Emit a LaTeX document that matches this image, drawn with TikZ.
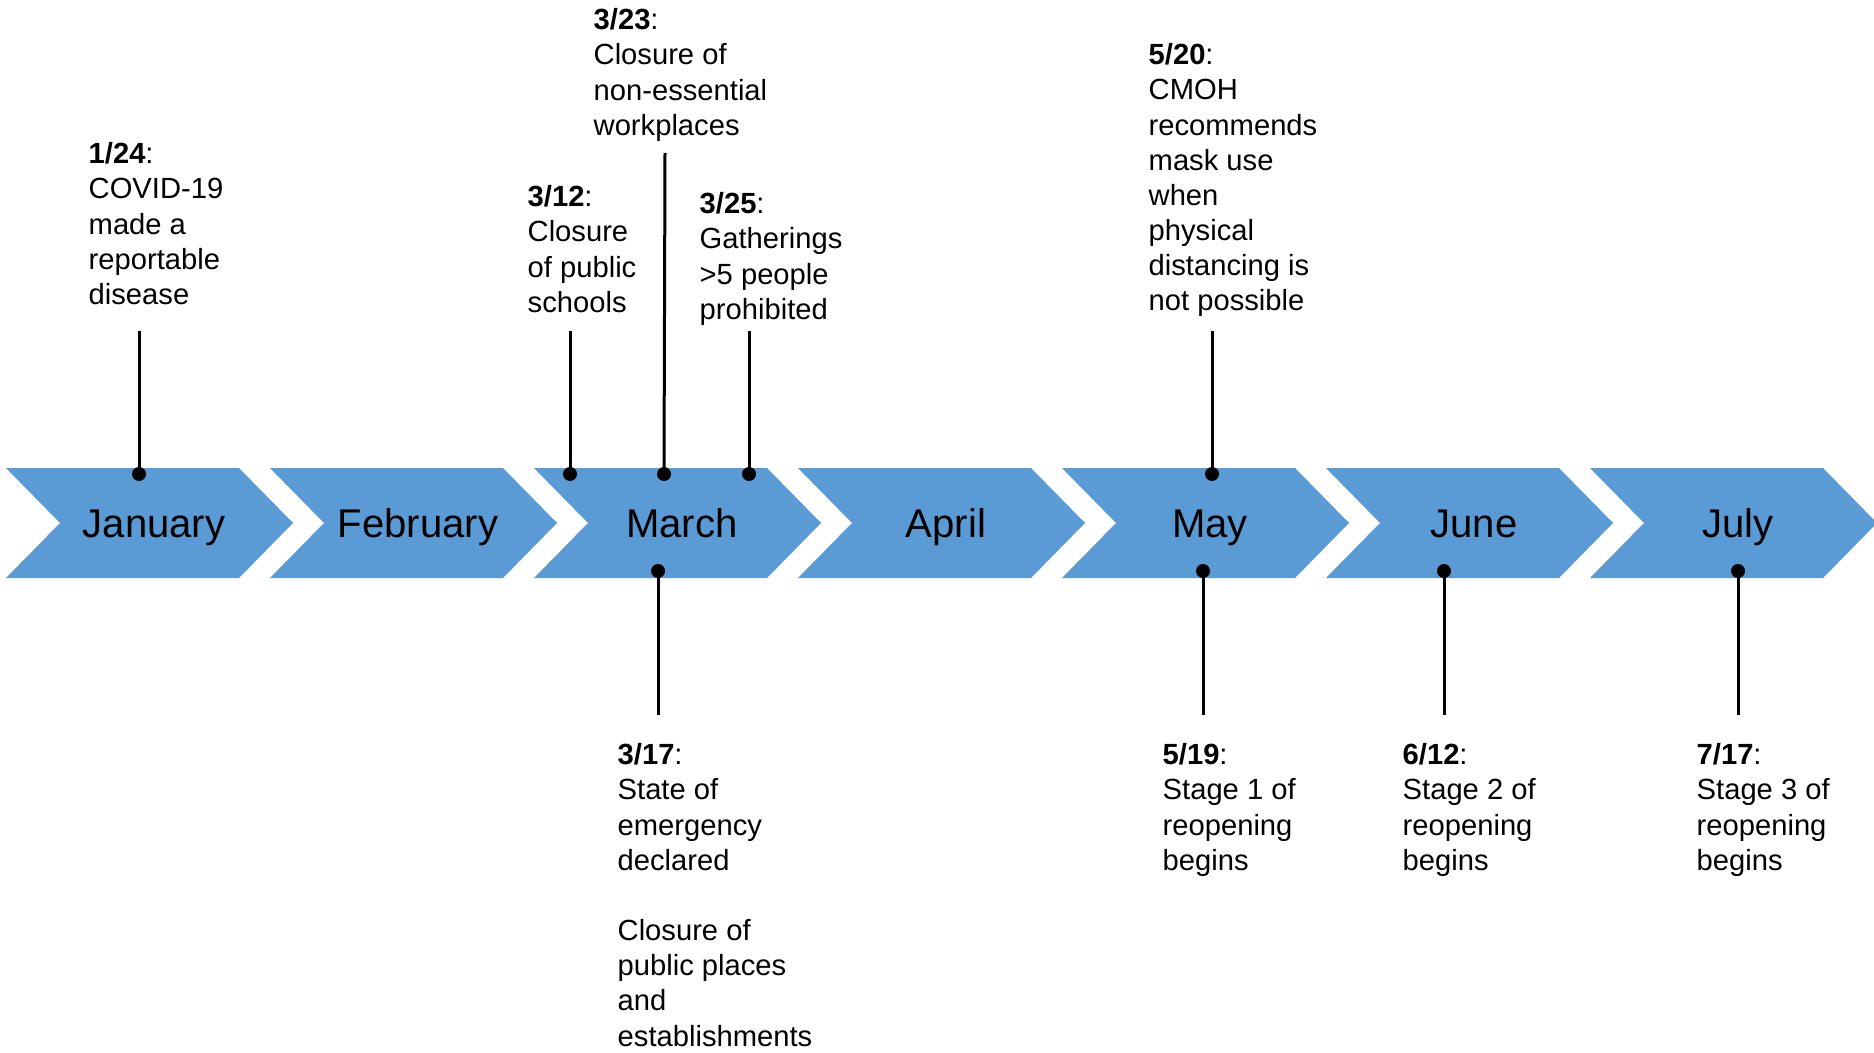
\documentclass[tikz,border=0pt]{standalone}
\usepackage{fontspec}
\setmainfont{Liberation Sans}
\definecolor{chevblue}{HTML}{5B9BD5}
\tikzset{
  chev/.style={fill=chevblue},
  month/.style={font=\fontsize{11.4}{13}\selectfont, inner sep=0, anchor=base},
  note/.style={font=\fontsize{8.3}{10}\selectfont, align=left, inner sep=0, anchor=north west},
  tick/.style={line width=0.3mm},
  dot/.style={fill=black}}

\begin{document}
\begin{tikzpicture}[x=0.1mm,y=-0.1mm]
\useasboundingbox (0,0) rectangle (1874,1053);
% month chevrons
\foreach \m [count=\i from 0] in {January,February,March,April,May,June,July}{
  \fill[chev] ({6+264*\i},468) -- ++(233,0) -- ++(54,55) -- ++(-54,55) -- ++(-233,0) -- ++(54,-55) -- cycle;
  \node[month] (m\i) at ({154+264*\i},537) {\m};
}
% notes above
\node[note] (jan24) at (88,142) {\textbf{1/24}:\\COVID-19\\made a\\reportable\\disease};
\node[note] (mar12) at (527,185) {\textbf{3/12}:\\Closure\\of public\\schools};
\node[note] (mar23) at (593,8) {\textbf{3/23}:\\Closure of\\non-essential\\workplaces};
\node[note] (mar25) at (699,192) {\textbf{3/25}:\\Gatherings\\>5 people\\prohibited};
\node[note] (may20) at (1148,43) {\textbf{5/20}:\\CMOH\\recommends\\mask use\\when\\physical\\distancing is\\not possible};
% notes below
\node[note] (mar17) at (617,743) {\textbf{3/17}:\\State of\\emergency\\declared\\[10pt]Closure of\\public places\\and\\establishments};
\node[note] (may19) at (1162,743) {\textbf{5/19}:\\Stage 1 of\\reopening\\begins};
\node[note] (jun12) at (1402,743) {\textbf{6/12}:\\Stage 2 of\\reopening\\begins};
\node[note] (jul17) at (1696,743) {\textbf{7/17}:\\Stage 3 of\\reopening\\begins};
% line ends
\coordinate (t-jan24) at (139,331); \coordinate (d-jan24) at (139,474);
\coordinate (t-mar12) at (570,331); \coordinate (d-mar12) at (570,474);
\coordinate (t-mar23) at (665,153); \coordinate (d-mar23) at (664,474);
\coordinate (t-mar25) at (749,331); \coordinate (d-mar25) at (749,474);
\coordinate (t-may20) at (1212,331); \coordinate (d-may20) at (1212,474);
\coordinate (t-mar17) at (658,715); \coordinate (d-mar17) at (658,571);
\coordinate (t-may19) at (1203,715); \coordinate (d-may19) at (1203,571);
\coordinate (t-jun12) at (1444,715); \coordinate (d-jun12) at (1444,571);
\coordinate (t-jul17) at (1738,715); \coordinate (d-jul17) at (1738,571);
\foreach \n in {jan24,mar12,mar23,mar25,may20,mar17,may19,jun12,jul17}{
  \draw[tick] (t-\n) -- (d-\n);
  \fill[dot] (d-\n) circle (0.7mm);
}
\end{tikzpicture}
\end{document}
